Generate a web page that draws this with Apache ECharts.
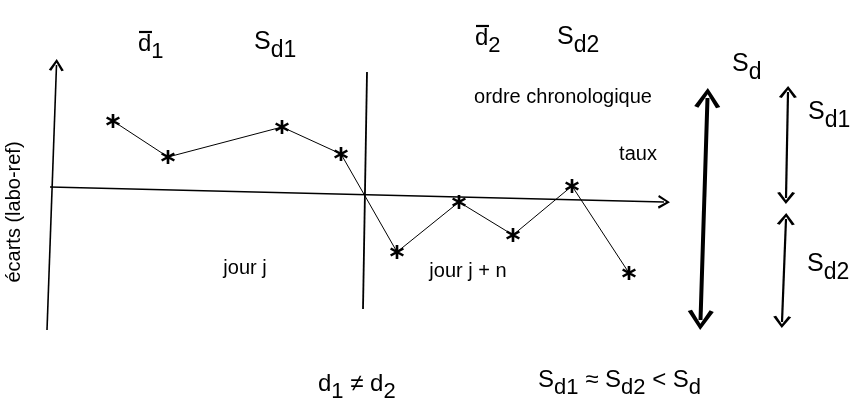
<!DOCTYPE html>
<html>
<head>
<meta charset="utf-8">
<script src="https://cdn.jsdelivr.net/npm/echarts@6/dist/echarts.min.js"></script>
<style>
  html, body { margin: 0; padding: 0; background: #fff; }
  #chart { width: 851px; height: 405px; }
</style>
</head>
<body>
<div id="chart"></div>
<script>
// ordre chronologique (x) et écarts labo-ref (y), unités arbitraires
var taux   = [6.3, 11.8, 23.2, 29.1, 34.7, 40.9, 46.3, 52.2, 57.9];
var ecarts = [7.4, 3.8, 6.8, 4.1, -5.7, -0.7, -4.0, 0.9, -7.8];

// axes dessinés à la main (légèrement penchés comme sur le croquis)
var axeTaux   = [[0, 0.8], [61.4, -0.7]];
var axeEcarts = [[-0.3, -13.5], [0.65, 13.0]];
var separation = [[31.7, 12.3], [31.3, -11.4]];   // jour j | jour j + n
var flecheSd  = [[65.05, -12.5], [65.75, 9.7]];
var flecheSd1 = [[73.6, -0.3], [73.8, 10.3]];
var flecheSd2 = [[73.2, -12.7], [73.6, -2.4]];

var FONT = "'Liberation Sans Narrow', 'Liberation Sans', Arial, sans-serif";
var chevron = 'path://M0 10 L5 0 L10 10 L8.4 10.8 L5 3.4 L1.6 10.8 Z';
var etoile = 'path://M4.1 0 L5.9 0 L5.9 10 L4.1 10 Z ' +
    'M1.12 1.72 L9.78 6.72 L8.88 8.28 L0.22 3.28 Z ' +
    'M0.22 6.72 L8.88 1.72 L9.78 3.28 L1.12 8.28 Z';

var points = taux.map(function (x, i) { return [x, ecarts[i]]; });

function trait(seg, width, s0, s1, size) {
    return [
        { coord: seg[0], symbol: s0, symbolSize: size, lineStyle: { width: width, color: '#000', type: 'solid' } },
        { coord: seg[1], symbol: s1, symbolSize: size }
    ];
}

// texte avec indices : parts = [[texte, 'a' | 'b'], ...]
function formule(parts, x, y, size) {
    return {
        type: 'text', x: x, y: y,
        style: {
            text: parts.map(function (p) { return '{' + p[1] + '|' + p[0] + '}'; }).join(''),
            fill: '#000',
            rich: {
                a: { fontSize: size, fontFamily: FONT, lineHeight: size + 7, verticalAlign: 'top' },
                b: { fontSize: size - 2, fontFamily: FONT, lineHeight: size - 2, verticalAlign: 'bottom' }
            }
        }
    };
}
function texte(t, x, y, size, extra) {
    var el = {
        type: 'text', x: x, y: y,
        style: { text: t, fill: '#000', font: size + 'px ' + FONT, textAlign: 'center', textVerticalAlign: 'middle' }
    };
    if (extra) { for (var k in extra) el[k] = extra[k]; }
    return el;
}
function barre(x, y) {
    return { type: 'line', shape: { x1: x, y1: y, x2: x + 13, y2: y }, style: { stroke: '#000', lineWidth: 2.2 } };
}

var chart = echarts.init(document.getElementById('chart'), null, { renderer: 'canvas' });
var option = {
    animation: false,
    backgroundColor: '#fff',
    grid: { left: 0, right: 0, top: 0, bottom: 0 },
    xAxis: { type: 'value', min: -5, max: 80.1, show: false },
    yAxis: { type: 'value', min: -21, max: 19.5, show: false },
    series: [{
        type: 'line',
        data: points,
        symbol: etoile,
        symbolSize: 14,
        itemStyle: { color: '#000' },
        lineStyle: { color: '#000', width: 1 },
        clip: false,
        markLine: {
            silent: true,
            label: { show: false },
            animation: false,
            data: [
                trait(axeTaux, 1.3, 'none', chevron, [14, 12]),
                trait(axeEcarts, 1.6, 'none', chevron, [15, 12]),
                trait(separation, 1.8, 'none', 'none', 1),
                trait(flecheSd, 4, chevron, chevron, [26, 20]),
                trait(flecheSd1, 2.2, chevron, chevron, [18, 12]),
                trait(flecheSd2, 2.2, chevron, chevron, [18, 12])
            ]
        }
    }],
    graphic: [
        formule([['d', 'a'], ['1', 'b']], 138, 32, 24),
        barre(139, 32),
        formule([['S', 'a'], ['d1', 'b']], 254, 30, 25),
        formule([['d', 'a'], ['2', 'b']], 475, 26, 24),
        barre(476, 26),
        formule([['S', 'a'], ['d2', 'b']], 557, 25, 25),
        formule([['S', 'a'], ['d', 'b']], 732, 52, 25),
        formule([['S', 'a'], ['d1', 'b']], 808, 100, 25),
        formule([['S', 'a'], ['d2', 'b']], 807, 252, 25),
        texte('ordre chronologique', 563, 97, 20),
        texte('taux', 638, 154, 20),
        texte('jour j', 245, 268, 20),
        texte('jour j + n', 468, 271, 20),
        texte('écarts (labo-ref)', 14, 212, 20, { rotation: Math.PI / 2 }),
        formule([['d', 'a'], ['1', 'b'], [' \u2260 ', 'a'], ['d', 'a'], ['2', 'b']], 318, 372, 24),
        formule([['S', 'a'], ['d1', 'b'], [' \u2248 ', 'a'], ['S', 'a'], ['d2', 'b'], [' < ', 'a'], ['S', 'a'], ['d', 'b']], 538, 368, 24)
    ]
};
chart.setOption(option);
</script>
</body>
</html>
